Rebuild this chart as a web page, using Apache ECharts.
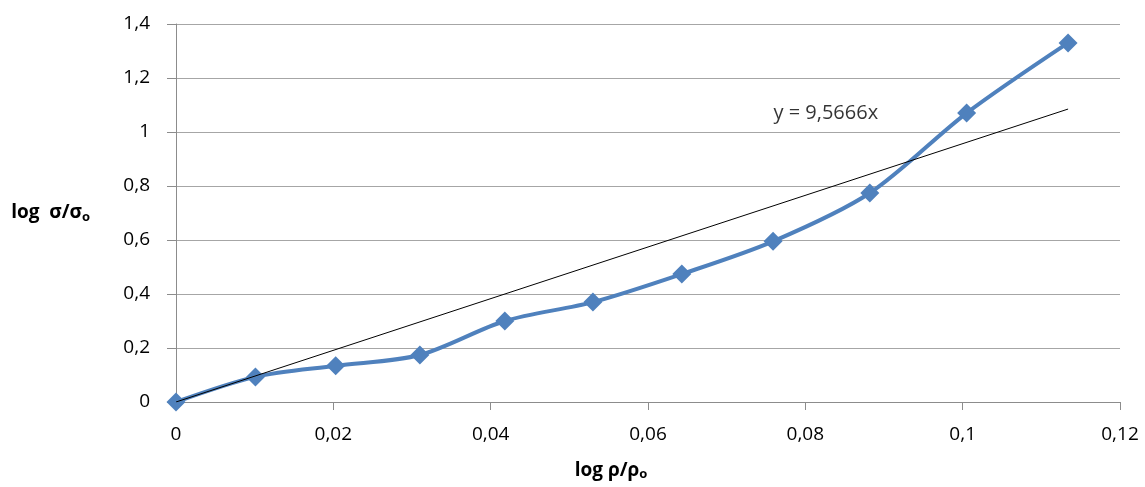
<!DOCTYPE html>
<html>
<head>
<meta charset="utf-8">
<script src="https://cdn.jsdelivr.net/npm/echarts@6/dist/echarts.min.js"></script>
<style>
  html, body { margin: 0; padding: 0; background: #fff; }
  #chart { width: 1145px; height: 487px; }
</style>
</head>
<body>
<div id="chart"></div>
<script>
// measured points (log rho/rho0 , log sigma/sigma0)
const logRho = [0, 0.0101, 0.0203, 0.031, 0.0418, 0.053, 0.0643, 0.0759, 0.0882, 0.1005, 0.1134];
const logSigma = [0, 0.093, 0.134, 0.174, 0.30, 0.37, 0.474, 0.595, 0.774, 1.07, 1.33];
// linear trend line end points, y = 9,5666x
const trendX = [0, 0.1134];
const trendY = [0, 1.085];
const trendLabel = "y = 9,5666x";

const FONT = "Open Sans";
const comma = (v) => String(+v.toFixed(2)).replace(".", ",");

let chart = echarts.init(document.getElementById("chart"));
let option = {
    animation: false,
    textStyle: { fontFamily: FONT },
    grid: { left: 176, right: 25, top: 24, bottom: 85 },
    xAxis: {
        type: "value",
        min: 0,
        max: 0.12,
        interval: 0.02,
        name: "log ρ/ρ{s|o}",
        nameLocation: "middle",
        nameGap: 58,
        nameTextStyle: {
            fontFamily: FONT, fontSize: 19, fontWeight: "bold", color: "#000",
            padding: [0, 74, 0, 0],
            rich: { s: { fontSize: 13, fontWeight: "bold", verticalAlign: "bottom", padding: [8, 0, 0, 0] } },
        },
        axisLine: { show: true, lineStyle: { color: "#8c8c8c", width: 1 } },
        axisTick: { show: true, length: 8, lineStyle: { color: "#8c8c8c" } },
        axisLabel: { fontSize: 19, color: "#000", margin: 23, formatter: comma },
        splitLine: { show: false },
    },
    yAxis: {
        type: "value",
        min: 0,
        max: 1.4,
        interval: 0.2,
        name: "log  σ/σ{s|o}",
        nameLocation: "middle",
        nameRotate: 0,
        nameGap: 86,
        nameTextStyle: {
            fontFamily: FONT, fontSize: 19, fontWeight: "bold", color: "#000",
            rich: { s: { fontSize: 13, fontWeight: "bold", verticalAlign: "bottom", padding: [8, 0, 0, 0] } },
        },
        axisLine: { show: true, lineStyle: { color: "#8c8c8c", width: 1 } },
        axisTick: { show: true, length: 9, lineStyle: { color: "#8c8c8c" } },
        axisLabel: { fontSize: 19, color: "#000", margin: 26, formatter: comma },
        splitLine: { show: true, lineStyle: { color: "#a6a6a6", width: 1 } },
    },
    series: [
        {
            name: "data",
            type: "line",
            smooth: 0.3,
            data: logRho.map((x, i) => [x, logSigma[i]]),
            symbol: "diamond",
            symbolSize: 19,
            itemStyle: { color: "#4f81bd" },
            lineStyle: { color: "#4f81bd", width: 4 },
            z: 2,
        },
        {
            name: "trend",
            type: "line",
            data: trendX.map((x, i) => [x, trendY[i]]),
            symbol: "none",
            lineStyle: { color: "#000", width: 1 },
            z: 3,
        },
        {
            name: "trendLabel",
            type: "scatter",
            symbolSize: 0,
            data: [[0.0826, 1.07]],
            label: {
                show: true,
                position: "inside",
                formatter: trendLabel,
                fontFamily: FONT,
                fontSize: 20,
                color: "#000",
            },
            silent: true,
        },
    ],
};
chart.setOption(option);
</script>
</body>
</html>
